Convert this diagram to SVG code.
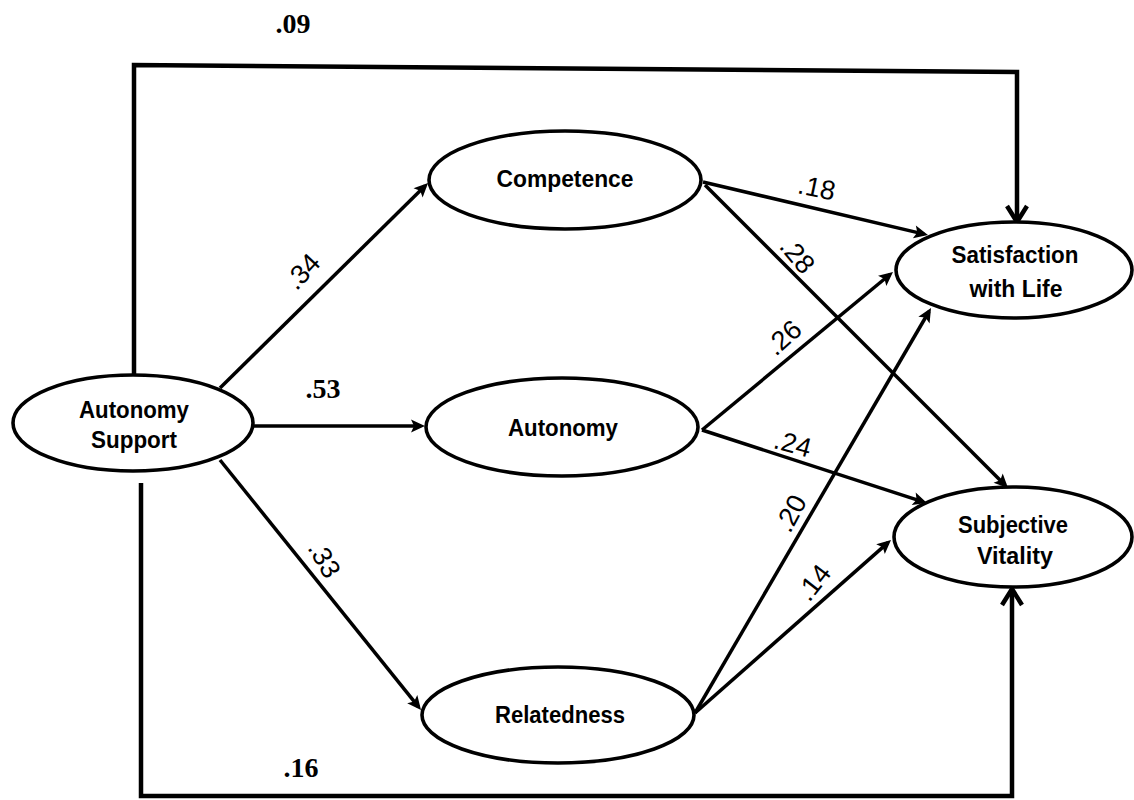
<svg xmlns="http://www.w3.org/2000/svg" width="1134" height="800" viewBox="0 0 1134 800">
<style>
.node ellipse{fill:#fff;stroke:#000;stroke-width:3.6}
.node text{font-family:"Liberation Sans",Arial,sans-serif;font-weight:bold;font-size:23px;text-anchor:middle;fill:#000}
.conn{fill:none;stroke:#000;stroke-width:3.5}
.thick{fill:none;stroke:#000;stroke-width:4.5}
.coef{font-family:"Liberation Sans",Arial,sans-serif;font-size:27px;text-anchor:middle;fill:#000}
.bcoef{font-family:"Liberation Serif","Times New Roman",serif;font-weight:bold;font-size:28px;text-anchor:middle;fill:#000}
</style>
<defs>
<marker id="ah" markerUnits="userSpaceOnUse" markerWidth="30" markerHeight="30" viewBox="-15 -15 30 30" refX="0" refY="0" orient="auto">
<path d="M4,0 L-10,-6.5 L-7,0 L-10,6.5 Z" fill="#000"/>
</marker>
<marker id="chev" markerUnits="userSpaceOnUse" markerWidth="40" markerHeight="40" viewBox="-20 -20 40 40" refX="0" refY="0" orient="auto">
<path d="M-16,-10 L0,0 L-16,10" fill="none" stroke="#000" stroke-width="4.5" stroke-linejoin="miter"/>
</marker>
</defs>
<rect width="1134" height="800" fill="#fff"/>
<g id="connectors">
<path class="thick" d="M134,376 L134,65 L1017,72 L1017,222" marker-end="url(#chev)"/>
<path class="thick" d="M141,483 L141,796 L1012,796 L1012,589" marker-end="url(#chev)"/>
<line class="conn" x1="220" y1="388" x2="425.2" y2="185.8" marker-end="url(#ah)"/>
<line class="conn" x1="253" y1="426" x2="421" y2="426" marker-end="url(#ah)"/>
<line class="conn" x1="220" y1="460" x2="418.5" y2="706.9" marker-end="url(#ah)"/>
<line class="conn" x1="703" y1="182" x2="924.1" y2="234.1" marker-end="url(#ah)"/>
<line class="conn" x1="705" y1="185" x2="1005.2" y2="485.2" marker-end="url(#ah)"/>
<line class="conn" x1="702" y1="430" x2="889.9" y2="274.5" marker-end="url(#ah)"/>
<line class="conn" x1="702" y1="430" x2="923.2" y2="501.8" marker-end="url(#ah)"/>
<line class="conn" x1="695" y1="713" x2="929" y2="311.5" marker-end="url(#ah)"/>
<line class="conn" x1="695" y1="713" x2="888" y2="542.6" marker-end="url(#ah)"/>
</g>
<g id="labels">
<text class="bcoef" x="293" y="33">.09</text>
<text class="bcoef" x="323" y="398">.53</text>
<text class="bcoef" x="301" y="777">.16</text>
<text class="coef" transform="translate(302,271) rotate(-47)" y="10">.34</text>
<text class="coef" transform="translate(325,559) rotate(60)" y="10">.33</text>
<text class="coef" transform="translate(817,187) rotate(12)" y="10">.18</text>
<text class="coef" transform="translate(798,255) rotate(50)" y="10">.28</text>
<text class="coef" transform="translate(783,337) rotate(-42)" y="10">.26</text>
<text class="coef" transform="translate(793,443) rotate(15)" y="10">.24</text>
<text class="coef" transform="translate(790,513) rotate(-62)" y="10">.20</text>
<text class="coef" transform="translate(813,582) rotate(-52)" y="10">.14</text>
</g>
<g id="autonomy-support" class="node">
<ellipse cx="133" cy="423" rx="120" ry="48"/>
<text x="134" y="418" textLength="110" lengthAdjust="spacingAndGlyphs">Autonomy</text>
<text x="134" y="448" textLength="86" lengthAdjust="spacingAndGlyphs">Support</text>
</g>
<g id="competence" class="node">
<ellipse cx="565" cy="180" rx="136" ry="49"/>
<text x="565" y="187" textLength="137" lengthAdjust="spacingAndGlyphs">Competence</text>
</g>
<g id="autonomy" class="node">
<ellipse cx="562" cy="427" rx="136" ry="49"/>
<text x="563" y="436" textLength="110" lengthAdjust="spacingAndGlyphs">Autonomy</text>
</g>
<g id="relatedness" class="node">
<ellipse cx="558" cy="715" rx="136" ry="48"/>
<text x="560" y="723" textLength="130" lengthAdjust="spacingAndGlyphs">Relatedness</text>
</g>
<g id="satisfaction-with-life" class="node">
<ellipse cx="1014" cy="270" rx="118" ry="48"/>
<text x="1015" y="263" textLength="127" lengthAdjust="spacingAndGlyphs">Satisfaction</text>
<text x="1016" y="297" textLength="93" lengthAdjust="spacingAndGlyphs">with Life</text>
</g>
<g id="subjective-vitality" class="node">
<ellipse cx="1013" cy="537" rx="119" ry="50"/>
<text x="1013" y="533" textLength="110" lengthAdjust="spacingAndGlyphs">Subjective</text>
<text x="1015" y="564" textLength="76" lengthAdjust="spacingAndGlyphs">Vitality</text>
</g>
</svg>
